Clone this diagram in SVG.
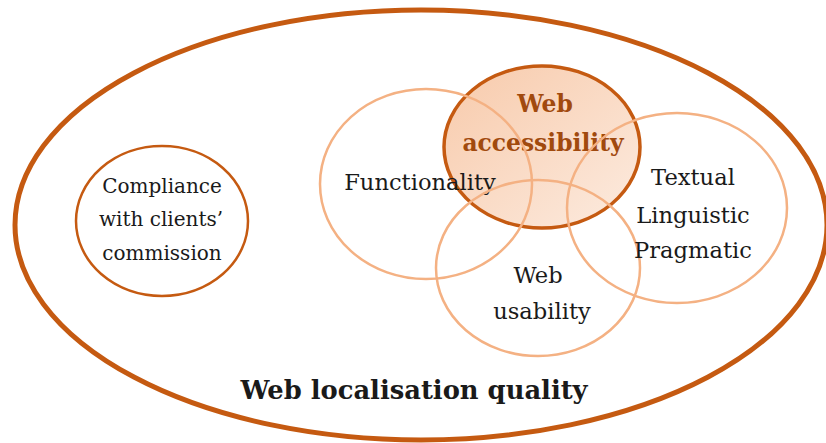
<svg xmlns="http://www.w3.org/2000/svg" width="826" height="443" viewBox="0 0 826 443" font-family="DejaVu Serif, Liberation Serif, serif">
<style>
text{text-anchor:middle;fill:#1a1a1a}
.outer{fill:none;stroke:#c55a11;stroke-width:5}
.dark{fill:none;stroke:#c55a11;stroke-width:2.5}
.light{fill:none;stroke:#f4b183;stroke-width:2.5}
.acc{stroke:#c55a11;stroke-width:3.5}
.lbl{font-size:22.6px}
.sm{font-size:20px}
.bold{font-weight:bold}
.accText{fill:#a14a0e;font-weight:bold;font-size:23.4px}
</style>
<defs>
<linearGradient id="accGrad" x1="0" y1="0" x2="1" y2="1">
<stop offset="0" stop-color="#f4b183" stop-opacity="0.68"/>
<stop offset="1" stop-color="#f4b183" stop-opacity="0.25"/>
</linearGradient>
</defs>
<rect width="826" height="443" fill="#ffffff"/>
<g id="quality">
<ellipse class="outer" cx="421" cy="225" rx="406" ry="215"/>
<text class="bold" x="414" y="399" font-size="25.8">Web localisation quality</text>
</g>
<g id="compliance">
<ellipse class="dark" cx="162" cy="221" rx="86" ry="75"/>
<text class="sm" x="162" y="193">Compliance</text>
<text class="sm" x="161" y="226">with clients’</text>
<text class="sm" x="162" y="260">commission</text>
</g>
<g id="accessibility">
<ellipse class="acc" fill="url(#accGrad)" cx="542" cy="147" rx="98" ry="81"/>
<text class="accText" x="545" y="112">Web</text>
<text class="accText" x="543" y="151">accessibility</text>
</g>
<g id="functionality">
<ellipse class="light" cx="426" cy="184" rx="106" ry="95"/>
<text class="lbl" x="420" y="190">Functionality</text>
</g>
<g id="usability">
<ellipse class="light" cx="538" cy="268" rx="102" ry="88"/>
<text class="lbl" x="538" y="283">Web</text>
<text class="lbl" x="542" y="319">usability</text>
</g>
<g id="textual">
<ellipse class="light" cx="677" cy="208" rx="110" ry="95"/>
<text class="lbl" x="693" y="185">Textual</text>
<text class="lbl" x="693" y="223">Linguistic</text>
<text class="lbl" x="693" y="258">Pragmatic</text>
</g>
<g id="connectors"></g>
</svg>
